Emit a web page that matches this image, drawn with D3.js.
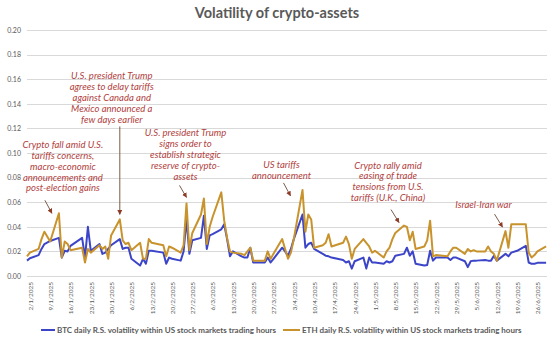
<!DOCTYPE html>
<html><head><meta charset="utf-8">
<script src="https://cdn.jsdelivr.net/npm/d3@7"></script>
<style>body{margin:0;background:#fff}svg{display:block}</style>
</head><body><svg id="c" width="550" height="339"></svg>
<script>
// ---------------- DATA ----------------
const firstDay = "2025-01-02";
const lastDay = "2025-06-30";
const marketHolidays = ["2025-01-09","2025-01-20","2025-02-17","2025-04-18","2025-05-26","2025-06-19"];

const tickLabels = ["2/1/2025","9/1/2025","16/1/2025","23/1/2025","30/1/2025","6/2/2025","13/2/2025","20/2/2025","27/2/2025","6/3/2025","13/3/2025","20/3/2025","27/3/2025","3/4/2025","10/4/2025","17/4/2025","24/4/2025","1/5/2025","8/5/2025","15/5/2025","22/5/2025","29/5/2025","5/6/2025","12/6/2025","19/6/2025","26/6/2025"];
const yTickValues = [0,0.02,0.04,0.06,0.08,0.10,0.12,0.14,0.16,0.18,0.20];

const seriesNames = ["BTC daily R.S. volatility within US stock markets trading hours",
                     "ETH daily R.S. volatility within US stock markets trading hours"];

// BTC, one value per US trading day (Jan .. Jun)
const btc = [
 0.0125,0.0144,0.017,0.022,0.026,0.0285,0.031,0.015,0.0205,0.020,0.0245,0.031,0.015,0.040,0.0205,0.026,0.018,0.019,0.022,0.025,
 0.030,0.022,0.023,0.023,0.014,0.0085,0.014,0.010,0.0205,0.0205,0.019,0.010,0.015,0.014,0.0125,0.020,0.046,0.018,0.029,
 0.031,0.049,0.022,0.033,0.034,0.038,0.042,0.030,0.016,0.020,0.016,0.015,0.015,0.023,0.011,0.011,0.011,0.015,0.011,0.014,0.023,
 0.020,0.0165,0.022,0.030,0.050,0.023,0.026,0.027,0.022,0.018,0.0165,0.016,0.015,0.013,0.011,0.012,0.006,0.012,0.015,0.006,0.015,
 0.011,0.011,0.010,0.012,0.011,0.012,0.0165,0.018,0.023,0.0165,0.020,0.0099,0.0085,0.009,0.0205,0.0125,0.015,0.015,0.013,0.015,0.015,
 0.012,0.0072,0.012,0.0125,0.0125,0.013,0.0125,0.0125,0.0165,0.0125,0.018,0.016,0.019,0.0205,0.0245,0.011,0.0099,0.010,0.0107,0.0107
];
// ETH, one value per US trading day (Jan .. Jun)
const eth = [
 0.016,0.019,0.022,0.030,0.036,0.028,0.051,0.015,0.028,0.026,0.021,0.023,0.011,0.022,0.019,0.025,0.022,0.024,0.014,0.033,
 0.046,0.029,0.026,0.027,0.021,0.027,0.014,0.014,0.030,0.027,0.025,0.016,0.024,0.023,0.019,0.025,0.059,0.021,0.035,
 0.050,0.063,0.026,0.040,0.048,0.068,0.045,0.031,0.020,0.019,0.018,0.017,0.020,0.023,0.0125,0.0125,0.0125,0.020,0.014,0.018,0.030,
 0.022,0.014,0.019,0.030,0.070,0.036,0.050,0.046,0.023,0.025,0.027,0.034,0.024,0.027,0.032,0.026,0.014,0.022,0.030,0.027,0.024,
 0.019,0.0205,0.015,0.020,0.023,0.030,0.035,0.041,0.040,0.029,0.036,0.022,0.024,0.029,0.045,0.016,0.017,0.016,0.020,0.023,0.023,
 0.018,0.022,0.020,0.021,0.020,0.020,0.024,0.020,0.018,0.0125,0.0365,0.023,0.042,0.042,0.042,0.019,0.015,0.017,0.020,0.024
];

const annotations = [
 {series:1, date:"2025-01-13", lines:["Crypto fall amid U.S.","tariffs concerns,","macro-economic","announcements and","post-election gains"], tx:4, ty:-65, tip:[-7,0], tail:[-14,-13]},
 {series:1, date:"2025-02-03", lines:["U.S. president Trump","agrees to delay tariffs","against Canada and","Mexico announced a","few days earlier"], tx:-8, ty:-140, tip:[0,-5], tail:[0,-93]},
 {series:1, date:"2025-02-26", lines:["U.S. president Trump","signs order to","establish strategic","reserve of crypto-","assets"], tx:-1, ty:-67, tip:[0,-6], tail:[-7,-18]},
 {series:1, date:"2025-04-07", lines:["US tariffs","announcement"], tx:-21, ty:-22, tip:[-12,6], tail:[-19,-7]},
 {series:1, date:"2025-05-12", lines:["Crypto rally amid","easing of trade","tensions from U.S.","tariffs (U.K., China)"], tx:-16, ty:-57, tip:[-5,-3], tail:[-13,-16]},
 {series:1, date:"2025-06-16", lines:["Israel-Iran war"], tx:-22, ty:-23, tip:[-3,-4], tail:[-11,-17]}
];

// ---------------- BUILD ----------------
(function(){
const parse = d3.utcParse("%Y-%m-%d");
const fmt = d3.utcFormat("%Y-%m-%d");
const hol = new Set(marketHolidays);
const dates = d3.utcDays(parse(firstDay), d3.utcDay.offset(parse(lastDay),1))
  .filter(d => d.getUTCDay()!==0 && d.getUTCDay()!==6 && !hol.has(fmt(d)));

const colors = ["#3c45c8","#c8932c"];
const series = [btc, eth];

const svg = d3.select("#c");
const pL = 27, pR = 547, pT = 30, pB = 276;

const x = d3.scaleUtc().domain([parse(firstDay), parse(lastDay)]).range([pL, pL + 2.9*179]);
const y = d3.scaleLinear().domain([0,0.20]).range([pB, pT]);

const font = "Lato, 'Open Sans', sans-serif";

// title
svg.append("text").attr("x",277).attr("y",18).attr("text-anchor","middle")
  .attr("font-family",font).attr("font-weight","bold").attr("font-size",14.5)
  .attr("fill","#595959").text("Volatility of crypto-assets");

// gridlines
svg.append("g").selectAll("line").data(yTickValues.slice(1)).join("line")
  .attr("x1",pL).attr("x2",pR).attr("y1",d=>Math.round(y(d))+0.5).attr("y2",d=>Math.round(y(d))+0.5)
  .attr("stroke","#d9d9d9").attr("stroke-width",1);

// y axis labels
const yAxis = d3.axisLeft(y).tickValues(yTickValues).tickFormat(d3.format(".2f")).tickSize(0).tickPadding(6);
const ga = svg.append("g").attr("transform",`translate(${pL},0)`).call(yAxis);
ga.select(".domain").remove();
ga.selectAll("text").attr("font-family",font).attr("font-size",7).attr("fill","#595959");

// x axis
const tickDates = tickLabels.map(s => { const [d,m,yy] = s.split("/").map(Number); return new Date(Date.UTC(yy,m-1,d)); });
const xAxis = d3.axisBottom(x).tickValues(tickDates).tickFormat((d,i)=>tickLabels[i]).tickSize(0).tickPadding(0);
const gx = svg.append("g").attr("transform",`translate(0,${pB})`).call(xAxis);
gx.select(".domain").attr("d",`M${pL},0.5H${pR}`).attr("stroke","#d9d9d9");
gx.selectAll("text").attr("font-family",font).attr("font-size",6.5).attr("fill","#595959")
  .attr("text-anchor","end").attr("transform","translate(3,6) rotate(-90)").attr("dy","0.35em").attr("y",0);

// lines
const line = d3.line().x((d,i)=>x(dates[i])).y(d=>y(d));
series.forEach((s,k)=>{
  svg.append("path").datum(s).attr("d",line).attr("fill","none")
    .attr("stroke",colors[k]).attr("stroke-width",2).attr("stroke-linejoin","round");
});

// annotations
const defs = svg.append("defs");
defs.append("marker").attr("id","ah").attr("viewBox","0 0 10 10").attr("refX",9).attr("refY",5)
  .attr("markerWidth",5).attr("markerHeight",5).attr("orient","auto")
  .append("path").attr("d","M0,0L10,5L0,10z").attr("fill","#8e3b26");
annotations.forEach(a=>{
  const i = dates.findIndex(d=>fmt(d)===a.date);
  const px = x(dates[i]), py = y(series[a.series][i]);
  svg.append("line").attr("x1",px+a.tail[0]).attr("y1",py+a.tail[1])
    .attr("x2",px+a.tip[0]).attr("y2",py+a.tip[1])
    .attr("stroke","#7a5c48").attr("stroke-width",1).attr("marker-end","url(#ah)");
  const t = svg.append("text").attr("font-family",font).attr("font-style","italic")
    .attr("font-size",9.5).attr("fill","#b0413e").attr("text-anchor","middle");
  a.lines.forEach((l,j)=>t.append("tspan").attr("x",px+a.tx).attr("y",py+a.ty+j*10.8).text(l));
});

// legend
const legend = [{x1:41,x2:55,tx:57},{x1:283,x2:300,tx:302}];
legend.forEach((L,k)=>{
  svg.append("line").attr("x1",L.x1).attr("x2",L.x2).attr("y1",330).attr("y2",330)
    .attr("stroke",colors[k]).attr("stroke-width",2);
  svg.append("text").attr("x",L.tx).attr("y",333).attr("font-family",font).attr("font-weight","bold")
    .attr("font-size",8).attr("fill","#595959").text(seriesNames[k]);
});
})();
</script></body></html>
